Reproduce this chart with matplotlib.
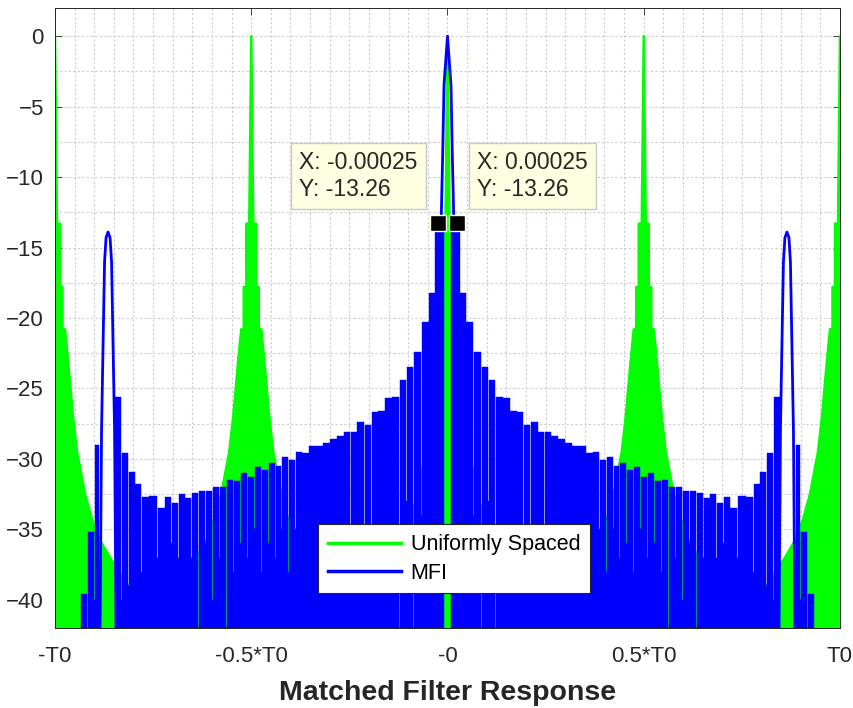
import numpy as np
import matplotlib.pyplot as plt
from matplotlib.ticker import MultipleLocator, FixedLocator

plt.rcParams['font.family'] = ['Liberation Sans', 'DejaVu Sans']

T0 = 0.01            # delay axis unit [s]
FLOOR = -42.0        # bottom of the plot [dB]
TXT = '#262626'

# Uniformly spaced: grating lobe positions and one lobe profile (offset in T0, level in dB)
grating_pos = [-1.0, -0.5, 0.0, 0.5, 1.0]
green_off = [0.0, 0.0051, 0.0128, 0.0128, 0.0191, 0.0191, 0.0255, 0.0332, 0.0459,
             0.0561, 0.0765, 0.0944, 0.1148, 0.1403, 0.1786, 0.2296, 0.2806, 0.3316]
green_db = [0.0, -13.3, -13.3, -17.8, -17.8, -20.8, -20.8, -23.0, -27.0,
            -29.5, -32.5, -34.3, -35.8, -37.0, -38.7, -40.3, -41.8, -43.0]

# MFI main lobe (right flank, offset in T0)
main_off = [0.0, 0.0089, 0.0122, 0.0153, 0.0168]
main_db = [0.0, -3.5, -8.3, -12.1, -14.5]

# MFI sidelobes, right half (centre in T0, peak in dB, slit depth to the right in dB)
lobe_pos = [0.0255, 0.0383, 0.0561, 0.0765, 0.0969, 0.1122, 0.1327, 0.1505, 0.1684, 0.1862,
            0.2015, 0.2219, 0.2398, 0.2551, 0.2730, 0.2908, 0.3087, 0.3265, 0.3444, 0.3622,
            0.3801, 0.3954, 0.4133, 0.4311, 0.4464, 0.4643, 0.4847, 0.5000, 0.5204, 0.5357,
            0.5536, 0.5740, 0.5893, 0.6097, 0.6250, 0.6429, 0.6607, 0.6760, 0.6939, 0.7117,
            0.7270, 0.7500, 0.7704, 0.7883, 0.8036, 0.8214, 0.8393]
lobe_db = [-13.26, -18.2, -20.3, -22.4, -23.5, -24.4, -25.6, -25.7, -26.6, -26.7,
           -27.6, -27.4, -28.1, -28.1, -28.4, -28.6, -28.9, -29.1, -29.1, -29.6,
           -29.5, -30.1, -29.9, -30.5, -30.3, -30.8, -30.6, -31.3, -31.0, -31.6,
           -31.5, -32.0, -32.0, -32.3, -32.3, -32.4, -32.8, -32.5, -33.1, -32.7,
           -33.5, -32.6, -32.7, -31.8, -30.9, -29.6, -25.6]
lobe_slit = [-30, -42, -34, -42, -33, -42, -34, -40, -35, -37,
             -35, -38, -35, -42, -36, -41, -35, -42, -36, -37,
             -35, -38, -35, -37, -36, -38, -35, -37, -36, -38,
             -42, -37, -40, -36, -42, -37, -40, -37, -36, -38,
             -37, -36, -38, -38, -39, -40]

# MFI secondary peak near 0.865*T0 and the lobes beyond it
peak_pos = [0.8444, 0.8482, 0.8533, 0.8559, 0.8597, 0.8648, 0.8699, 0.8737, 0.8763, 0.8814, 0.8852]
peak_db = [-42.0, -28.0, -20.0, -16.0, -14.3, -13.9, -14.3, -16.0, -20.0, -28.0, -42.0]
outer_pos = [0.8903, 0.9082, 0.9260]
outer_db = [-29.0, -35.2, -39.6]
outer_slit = [-40, -42]

# data tips
tip_x = [-0.00025, 0.00025]
tip_y = [-13.26, -13.26]


def bar_outline(centers, tops, slits, left, right, w=0.0008):
    """Staircase outline of the dense sidelobes, thin slits between lobes."""
    mids = [(a + b) / 2 for a, b in zip(centers[:-1], centers[1:])]
    el = [left] + mids
    er = mids + [right]
    xs, ys = [left], [FLOOR]
    n = len(centers)
    for k in range(n):
        xl = el[k] + (w if k > 0 else 0)
        xr = er[k] - (w if k < n - 1 else 0)
        xs += [xl, xr]
        ys += [tops[k], tops[k]]
        if k < n - 1:
            xs += [xr, xr + 2 * w]
            ys += [slits[k], slits[k]]
    xs.append(right)
    ys.append(FLOOR)
    return np.array(xs), np.array(ys)


fig = plt.figure(figsize=(8.54, 7.08), dpi=100)
ax = fig.add_axes([0.0644, 0.1130, 0.9192, 0.8757])

# uniformly spaced (green)
go = np.array(green_off)
gd = np.array(green_db)
gx = np.concatenate([-go[::-1], go])
gy = np.concatenate([gd[::-1], gd])
for i, c in enumerate(grating_pos):
    ax.fill_between((c + gx) * T0, FLOOR - 5, gy, color='#00ff00', lw=0, zorder=2)
    ax.plot((c + gx) * T0, gy, color='#00ff00', lw=1.8, zorder=2,
            label='Uniformly Spaced' if i == 0 else None)

# MFI (blue)
xs, ys = bar_outline(lobe_pos, lobe_db, lobe_slit, 0.0077, 0.8470)
xo, yo = bar_outline(outer_pos, outer_db, outer_slit, 0.8877, 0.9350)
for s in (1, -1):
    ax.fill(s * xs * T0, ys, facecolor='#0000ff', edgecolor='#0000ff', lw=0.3, zorder=3)
    ax.fill(s * xo * T0, yo, facecolor='#0000ff', edgecolor='#0000ff', lw=0.3, zorder=3)
    ax.plot(s * np.array(peak_pos) * T0, peak_db, color='#0000ff', lw=2, zorder=4)
mo = np.array(main_off)
md = np.array(main_db)
ax.plot(np.concatenate([-mo[::-1], mo]) * T0, np.concatenate([md[::-1], md]),
        color='#0000ff', lw=2, zorder=4, label='MFI')

# data tips
ax.plot(tip_x, tip_y, 's', ms=11, mfc='k', mec='#ffffe1', mew=1, zorder=8)
for x, y, dx, ha in [(tip_x[0], tip_y[0], -20, 'right'), (tip_x[1], tip_y[1], 20, 'left')]:
    ax.annotate(f'X: {x:g}\nY: {y:.2f}', xy=(x, y), xytext=(dx, 22),
                textcoords='offset pixels', ha=ha, va='bottom', multialignment='left',
                fontsize=16.5, color=TXT, linespacing=1.25, zorder=9,
                bbox=dict(boxstyle='square,pad=0.35', fc='#ffffe1', ec='#c8c8c8', lw=1))

ax.set_xlim(-T0, T0)
ax.set_ylim(FLOOR, 2)
ax.xaxis.set_major_locator(FixedLocator([-T0, -0.5 * T0, 0, 0.5 * T0, T0]))
ax.set_xticklabels(['-T0', '-0.5*T0', '-0', '0.5*T0', 'T0'])
ax.xaxis.set_minor_locator(MultipleLocator(0.05 * T0))
ax.yaxis.set_major_locator(MultipleLocator(5))
ax.yaxis.set_minor_locator(MultipleLocator(2.5))
ax.grid(which='both', color='#cccccc', ls=(0, (2, 2)), lw=0.8)
ax.set_axisbelow(True)
ax.tick_params(which='major', direction='in', length=5, width=0.6, top=True, right=True,
               labelsize=16, colors=TXT, pad=8)
ax.tick_params(axis='x', which='major', pad=13)
ax.tick_params(which='minor', length=0)
for sp in ax.spines.values():
    sp.set_color(TXT)
    sp.set_linewidth(0.7)
    sp.set_zorder(10)

ax.set_xlabel('Matched Filter Response', fontsize=20.5, fontweight='bold', color=TXT, labelpad=9)

leg = ax.legend(loc='lower left', bbox_to_anchor=(0.335, 0.056), fontsize=15.5,
                frameon=True, fancybox=False, edgecolor=TXT, framealpha=1,
                handlelength=3.4, handletextpad=0.45, borderpad=0.45, labelspacing=0.35,
                borderaxespad=0)
leg.get_frame().set_linewidth(0.8)
for ln in leg.get_lines():
    ln.set_linewidth(2.5)
leg.set_zorder(11)

fig.savefig('out.png', dpi=100)
